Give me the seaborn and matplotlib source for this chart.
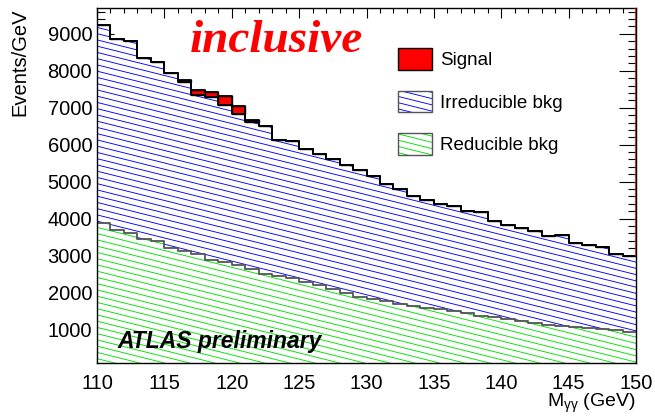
import numpy as np
import pandas as pd
import matplotlib
matplotlib.use("Agg")
import matplotlib.pyplot as plt
import matplotlib.hatch as mhatch
import matplotlib.colors as mcolors
from matplotlib.path import Path
from matplotlib.patches import Patch
from matplotlib.legend_handler import HandlerTuple
from matplotlib.ticker import MultipleLocator
import seaborn as sns

# 1 GeV bins between 110 and 150 GeV (bin centres)
mass = np.arange(110.5, 150, 1.0)

signal = [0, 0, 0, 0, 0, 0, 50, 110, 125, 240,
          200, 70, 0, 0, 0, 0, 0, 0, 0, 0,
          0, 0, 0, 0, 0, 0, 0, 0, 0, 0,
          0, 0, 0, 0, 0, 0, 0, 0, 0, 0]

irreducible = [5360, 5165, 5200, 4890, 4835, 4730, 4565, 4323, 4398, 4259,
               4105, 3976, 4019, 3676, 3720, 3595, 3557, 3532, 3469, 3444,
               3323, 3167, 3100, 2963, 2924, 2865, 2832, 2767, 2800, 2595,
               2549, 2513, 2477, 2407, 2472, 2271, 2253, 2232, 2073, 2064]

reducible = [3880, 3700, 3620, 3460, 3395, 3205, 3125, 3035, 2890, 2825,
             2730, 2630, 2495, 2440, 2380, 2290, 2200, 2080, 1990, 1880,
             1820, 1760, 1700, 1640, 1590, 1540, 1500, 1430, 1370, 1340,
             1270, 1225, 1180, 1115, 1095, 1070, 1025, 1000, 980, 935]

components = ["Signal", "Irreducible bkg", "Reducible bkg"]
colors = {"Signal": "#ff0000", "Irreducible bkg": "#0000ff", "Reducible bkg": "#00e000"}


# ROOT style shallow "\" hatching, used through the 'o' hatch character
class ShallowHatch(mhatch.HatchPatternBase):
    def __init__(self, hatch, density):
        self.n = 16 * hatch.count("o")
        self.k = 4 * hatch.count("o")
        self.num_lines = self.n + self.k
        self.num_vertices = 2 * self.num_lines

    def set_vertices_and_codes(self, vertices, codes):
        c = (np.arange(self.num_lines) + 0.5) / self.n
        drop = self.k / self.n
        vertices[0::2, 0] = 0.0
        vertices[0::2, 1] = c
        vertices[1::2, 0] = 1.0
        vertices[1::2, 1] = c - drop
        codes[0::2] = Path.MOVETO
        codes[1::2] = Path.LINETO


mhatch._hatch_types[mhatch._hatch_types.index(mhatch.SmallCircles)] = ShallowHatch

sns.set_style("ticks")
plt.rcParams["font.family"] = ["Liberation Sans", "DejaVu Sans"]
plt.rcParams["text.color"] = "black"
plt.rcParams["axes.labelcolor"] = "black"
plt.rcParams["mathtext.fontset"] = "custom"
plt.rcParams["mathtext.rm"] = "Liberation Sans"
plt.rcParams["mathtext.it"] = "Liberation Sans:italic"
plt.rcParams["hatch.linewidth"] = 0.65

df = pd.DataFrame({
    "mass": np.tile(mass, 3),
    "events": np.concatenate([signal, irreducible, reducible]),
    "component": np.repeat(components, len(mass)),
})

fig = plt.figure(figsize=(6.55, 4.16), dpi=100)
ax = fig.add_axes([97 / 655, 1 - 363 / 416, 539 / 655, 355 / 416])

# filled stack
sns.histplot(data=df, x="mass", weights="events", hue="component", hue_order=components,
             multiple="stack", bins=40, binrange=(110, 150), element="bars",
             palette=colors, alpha=1, linewidth=0, legend=False, ax=ax)

for bar in ax.patches:
    fc = mcolors.to_hex(bar.get_facecolor())
    if fc == colors["Signal"]:
        bar.set_edgecolor("black")
        bar.set_linewidth(1.0)
    else:
        bar.set_hatch("o")
        bar.set_edgecolor(fc)
        bar.set_facecolor("white")
        bar.set_linewidth(0)

# outlines of the stack
sns.histplot(data=df, x="mass", weights="events", hue="component", hue_order=components,
             multiple="stack", bins=40, binrange=(110, 150), element="step", fill=False,
             palette={"Signal": "black", "Irreducible bkg": "black", "Reducible bkg": "#555555"},
             linewidth=1.3, legend=False, ax=ax)

ymax = 9700
total = np.array(signal) + np.array(irreducible) + np.array(reducible)
ax.vlines(150, total[-1], ymax, color="red", linewidth=1.2, zorder=5)

ax.set_xlim(110, 150)
ax.set_ylim(90, ymax)
ax.xaxis.set_major_locator(MultipleLocator(5))
ax.xaxis.set_minor_locator(MultipleLocator(1))
ax.yaxis.set_major_locator(MultipleLocator(1000))
ax.yaxis.set_minor_locator(MultipleLocator(200))
ax.tick_params(which="both", direction="in", top=True, right=True, colors="black", width=0.8)
ax.tick_params(axis="x", which="major", length=7.5, pad=8, labelsize=14.5)
ax.tick_params(axis="x", which="minor", length=3.8)
ax.tick_params(axis="y", which="major", length=12, pad=3.5, labelsize=14.5)
ax.tick_params(axis="y", which="minor", length=6)
for s in ax.spines.values():
    s.set_linewidth(1.0)
    s.set_color("black")

ax.set_xlabel(r"M$_{\mathregular{\gamma\gamma}}$ (GeV)", loc="right", fontsize=14, labelpad=-1)
ax.set_ylabel("Events/GeV", loc="top", fontsize=14.5, labelpad=13)

fig.text(190 / 655, 1 - 52 / 416, "inclusive", color="red", fontsize=34,
         family="Liberation Serif", weight="bold", style="italic", ha="left", va="baseline")
fig.text(117 / 655, 1 - 348 / 416, "ATLAS preliminary", fontsize=16.5, color="black",
         weight="bold", style="italic", ha="left", va="baseline")

handles = [
    Patch(facecolor="red", edgecolor="black", linewidth=1),
    (Patch(facecolor="white", edgecolor=colors["Irreducible bkg"], hatch="o", linewidth=0),
     Patch(fill=False, edgecolor="#555555", linewidth=1)),
    (Patch(facecolor="white", edgecolor=colors["Reducible bkg"], hatch="o", linewidth=0),
     Patch(fill=False, edgecolor="#555555", linewidth=1)),
]
ax.legend(handles, components, handler_map={tuple: HandlerTuple(ndivide=1)},
          loc="upper left", bbox_to_anchor=(398 / 655, 1 - 48 / 416),
          bbox_transform=fig.transFigure, frameon=False, fontsize=13.5,
          handlelength=1.8, handleheight=1.4, labelspacing=1.12,
          handletextpad=0.45, borderpad=0, borderaxespad=0)

fig.savefig("out.png", dpi=100, facecolor="white")
